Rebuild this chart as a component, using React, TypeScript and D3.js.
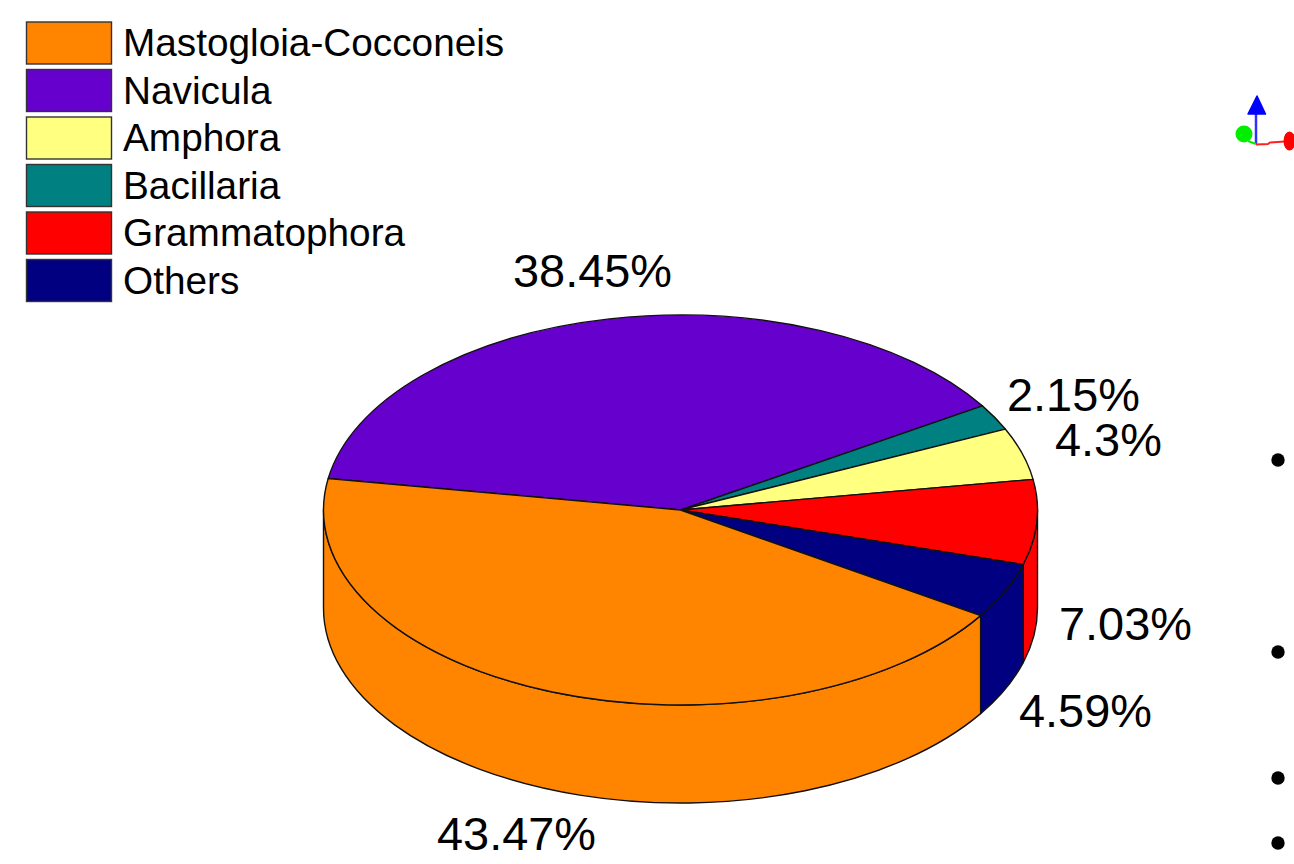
import React from "react";
import * as d3 from "d3";

const FONT = '"Liberation Sans", Arial, sans-serif';

// Legend entries, top to bottom.
const legendNames = ["Mastogloia-Cocconeis", "Navicula", "Amphora", "Bacillaria", "Grammatophora", "Others"];
const legendColors = ["#FF8500", "#6600CC", "#FFFF80", "#008080", "#FF0000", "#000080"];
const shares = [43.47, 38.45, 4.3, 2.15, 7.03, 4.59];

// Clockwise drawing order of the slices, as indices into the arrays above.
const sliceOrder = [1, 3, 2, 4, 5, 0];

// Rest of the page: bullet markers beside the chart.
const bulletRows = [460, 652, 778, 843];

const W = 1294;
const H = 864;
const CX = 680.5;
const CY = 510;
const RX = 357;
const RY = 195;
const DEPTH = 98;
const START = (-80.7 * Math.PI) / 180;

// Where each share's label sits, keyed by legend index.
const labelAnchors: Record<number, [number, number]> = {
  0: [437, 850],
  1: [513, 287],
  2: [1055, 456],
  3: [1007, 411],
  4: [1059, 640],
  5: [1019, 727],
};

const pie = d3
  .pie<number>()
  .sort(null)
  .value((i) => shares[i])
  .startAngle(START)
  .endAngle(START + 2 * Math.PI);

const px = (a: number) => CX + RX * Math.sin(a);
const py = (a: number, dz = 0) => CY - RY * Math.cos(a) + dz;

// Top face of a slice, as an elliptical sector.
function topPath(a0: number, a1: number) {
  const large = a1 - a0 > Math.PI ? 1 : 0;
  return `M${CX},${CY}L${px(a0)},${py(a0)}A${RX},${RY} 0 ${large} 1 ${px(a1)},${py(a1)}Z`;
}

// Outer wall of a slice, limited to the near half of the rim.
function wallPath(a0: number, a1: number) {
  const lo = Math.max(a0, Math.PI / 2);
  const hi = Math.min(a1, (3 * Math.PI) / 2);
  if (hi <= lo) return null;
  return (
    `M${px(lo)},${py(lo)}A${RX},${RY} 0 0 1 ${px(hi)},${py(hi)}` +
    `L${px(hi)},${py(hi, DEPTH)}A${RX},${RY} 0 0 0 ${px(lo)},${py(lo, DEPTH)}Z`
  );
}

export default function App() {
  const arcs = pie(sliceOrder);
  const legendY = d3.scaleLinear().domain([0, 5]).range([22, 259.5]);
  return (
    <svg width={W} height={H} style={{ position: "absolute", left: 0, top: 0, background: "#fff" }}>
      {/* legend */}
      {legendNames.map((name, i) => (
        <g key={name}>
          <rect
            x={26.5}
            y={legendY(i)}
            width={85}
            height={42}
            fill={legendColors[i]}
            stroke="#333"
            strokeWidth={1.4}
          />
          <text x={123} y={legendY(i) + 34} fontFamily={FONT} fontSize={38.75} fill="#000">
            {name}
          </text>
        </g>
      ))}

      {/* pie walls, then the top faces */}
      {arcs.map((s) => {
        const d = wallPath(s.startAngle, s.endAngle);
        return d ? (
          <path key={s.data} d={d} fill={legendColors[s.data]} stroke="#111" strokeWidth={1.4} strokeLinejoin="round" />
        ) : null;
      })}
      {arcs.map((s) => (
        <path
          key={s.data}
          d={topPath(s.startAngle, s.endAngle)}
          fill={legendColors[s.data]}
          stroke="#111"
          strokeWidth={1.4}
          strokeLinejoin="round"
        />
      ))}

      {/* share labels */}
      {shares.map((v, i) => (
        <text key={i} x={labelAnchors[i][0]} y={labelAnchors[i][1]} fontFamily={FONT} fontSize={46.9} fill="#000">
          {`${v}%`}
        </text>
      ))}

      {/* orientation triad */}
      <line x1={1256} y1={144} x2={1256} y2={112} stroke="#3030ff" strokeWidth={2.5} />
      <path d="M1257,96L1265.5,114L1248,114Z" fill="#0000ff" stroke="#0000ff" strokeWidth={1.5} strokeLinejoin="round" />
      <line x1={1256} y1={144} x2={1248} y2={141} stroke="#00ee00" strokeWidth={2} />
      <circle cx={1244} cy={134} r={8.5} fill="#00ee00" />
      <path d="M1256,144.5L1268,144L1270,142.5L1285,141.5" fill="none" stroke="#ff2020" strokeWidth={1.8} />
      <ellipse cx={1289.5} cy={141} rx={6} ry={9.5} fill="#ff0000" />

      {/* bullets */}
      {bulletRows.map((y) => (
        <circle key={y} cx={1278} cy={y} r={6.7} fill="#000" />
      ))}
    </svg>
  );
}
